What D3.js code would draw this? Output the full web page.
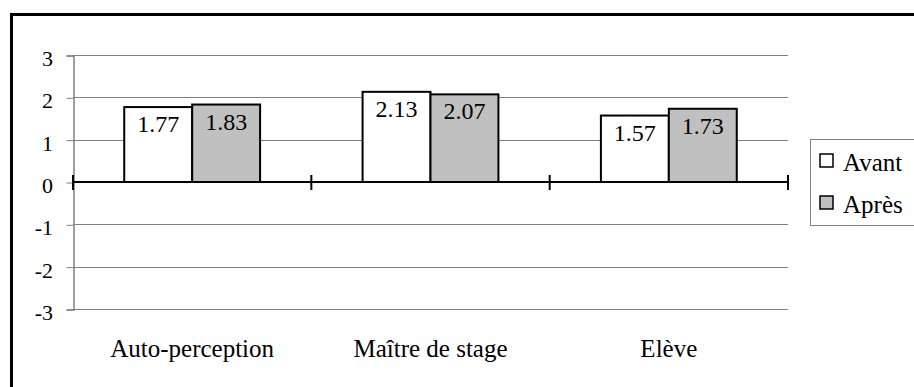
<!DOCTYPE html>
<html>
<head>
<meta charset="utf-8">
<script src="https://cdn.jsdelivr.net/npm/d3@7"></script>
</head>
<body style="margin:0">
<svg id="chart" width="914" height="387"></svg>
<script>
// Mean scores before and after, per evaluator
const categories = ["Auto-perception", "Maître de stage", "Elève"];
const seriesNames = ["Avant", "Après"];
const avant = [1.77, 2.13, 1.57];
const apres = [1.83, 2.07, 1.73];
const yTicks = [-3, -2, -1, 0, 1, 2, 3];

const seriesValues = [avant, apres];
const fills = ["#ffffff", "#c0c0c0"];

const svg = d3.select("#chart");

const plotLeft = 73, plotRight = 788, plotTop = 55, plotBottom = 309;

const x = d3.scaleBand().domain(categories).range([plotLeft, plotRight]).padding(0);
const y = d3.scaleLinear().domain([-3, 3]).range([plotBottom, plotTop]);

const groupHalf = x.bandwidth() * 0.285;
const inner = d3.scaleBand().domain(seriesNames).range([-groupHalf, groupHalf]).padding(0);

// Flat list of bar records
const bars = [];
categories.forEach((c, i) => seriesNames.forEach((s, j) => bars.push({ c, s, j, v: seriesValues[j][i] })));
const barX = d => x(d.c) + x.bandwidth() / 2 + inner(d.s);

// Outer frame (runs past the right and bottom edges)
svg.append("rect")
  .attr("x", 11.5).attr("y", 14.5)
  .attr("width", 930).attr("height", 400)
  .attr("fill", "none").attr("stroke", "#000").attr("stroke-width", 3);

// Horizontal gridlines
svg.selectAll("line.grid")
  .data(yTicks.filter(d => d !== 0))
  .join("line")
  .attr("class", "grid")
  .attr("x1", plotLeft).attr("x2", plotRight)
  .attr("y1", d => Math.round(y(d)) + 0.5).attr("y2", d => Math.round(y(d)) + 0.5)
  .attr("stroke", "#808080").attr("stroke-width", 1);

// Value axis: line and ticks from d3.axisLeft, labels drawn at the tick positions
const yAxis = d3.axisLeft(y).tickValues(yTicks).tickSize(7).tickFormat("");
const yg = svg.append("g").attr("transform", `translate(${plotLeft + 0.5},0.5)`).call(yAxis);
yg.select(".domain").attr("stroke", "#808080").attr("stroke-width", 1.5);
yg.selectAll(".tick line").attr("stroke", "#808080");

svg.selectAll("text.ytick")
  .data(yTicks)
  .join("text")
  .attr("class", "ytick")
  .attr("x", plotLeft - 20)
  .attr("y", d => y(d) + 11)
  .attr("text-anchor", "end")
  .style("font-family", '"Liberation Serif"')
  .attr("font-size", 22)
  .text(d => String(d));

// Bars
svg.selectAll("rect.bar")
  .data(bars)
  .join("rect")
  .attr("class", "bar")
  .attr("x", barX)
  .attr("width", inner.bandwidth())
  .attr("y", d => y(d.v))
  .attr("height", d => y(0) - y(d.v))
  .attr("fill", d => fills[d.j])
  .attr("stroke", "#000").attr("stroke-width", 2);

svg.selectAll("text.val")
  .data(bars)
  .join("text")
  .attr("class", "val")
  .attr("x", d => barX(d) + inner.bandwidth() / 2)
  .attr("y", d => y(d.v) + 25)
  .attr("text-anchor", "middle")
  .style("font-family", '"Liberation Serif"')
  .attr("font-size", 24)
  .text(d => d.v.toFixed(2));

// Zero baseline with category separator ticks
const y0 = y(0);
svg.append("line")
  .attr("x1", plotLeft).attr("x2", plotRight)
  .attr("y1", y0).attr("y2", y0)
  .attr("stroke", "#000").attr("stroke-width", 2);
svg.selectAll("line.sep")
  .data(categories.map(c => x(c)).concat([plotRight]))
  .join("line")
  .attr("class", "sep")
  .attr("x1", d => d).attr("x2", d => d)
  .attr("y1", y0 - 7).attr("y2", y0 + 8)
  .attr("stroke", "#000").attr("stroke-width", 2);

// Category labels
svg.selectAll("text.cat")
  .data(categories)
  .join("text")
  .attr("class", "cat")
  .attr("x", c => x(c) + x.bandwidth() / 2)
  .attr("y", 357)
  .attr("text-anchor", "middle")
  .style("font-family", '"Liberation Serif"')
  .attr("font-size", 25)
  .text(c => c);

// Legend
svg.append("rect")
  .attr("x", 810.5).attr("y", 139.5).attr("width", 120).attr("height", 86)
  .attr("fill", "#fff").attr("stroke", "#808080").attr("stroke-width", 1);
svg.selectAll("rect.key")
  .data(seriesNames)
  .join("rect")
  .attr("class", "key")
  .attr("x", 820).attr("y", (d, i) => 154 + i * 42).attr("width", 13).attr("height", 13)
  .attr("fill", (d, i) => fills[i]).attr("stroke", "#000").attr("stroke-width", 1.5);
svg.selectAll("text.key")
  .data(seriesNames)
  .join("text")
  .attr("class", "key")
  .attr("x", 843).attr("y", (d, i) => 171 + i * 42)
  .style("font-family", '"Liberation Serif"')
  .attr("font-size", 25)
  .text(d => d);
</script>
</body>
</html>
